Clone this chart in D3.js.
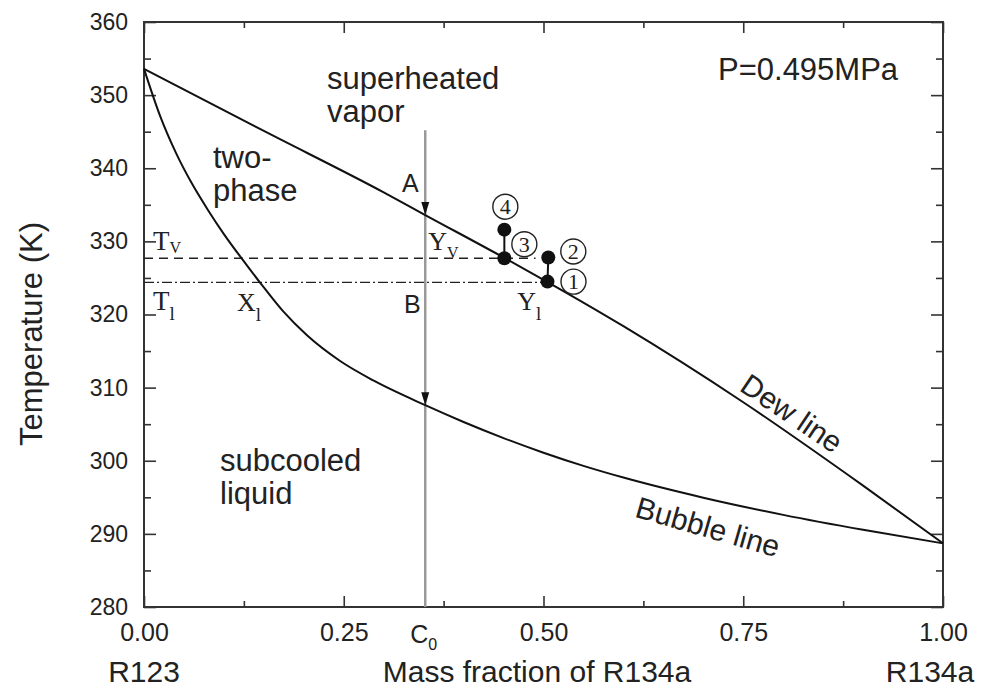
<!DOCTYPE html>
<html>
<head>
<meta charset="utf-8">
<script src="https://cdn.jsdelivr.net/npm/d3@7"></script>
<style>
  body { margin: 0; background: #fff; }
  text { fill: #222; }
</style>
</head>
<body>
<div id="chart"></div>
<script>
// Dew line (saturated vapour)
const dewX = [0, 0.15, 0.3, 0.352, 0.45, 0.504, 0.6, 0.75, 0.9, 1.0];
const dewT = [353.6, 345.1, 336.7, 333.6, 327.8, 324.5, 318.4, 308.0, 296.6, 288.7];

// Bubble line (saturated liquid)
const bubbleX = [0, 0.02, 0.04, 0.06, 0.08, 0.1, 0.122, 0.145, 0.174, 0.204, 0.245, 0.287, 0.352, 0.4, 0.45, 0.5, 0.55, 0.6, 0.7, 0.8, 0.9, 1.0];
const bubbleT = [353.6, 347.2, 342.1, 337.9, 334.3, 331.0, 327.7, 324.4, 320.45, 317.15, 313.67, 310.98, 307.6, 305.3, 303.1, 301.1, 299.3, 297.7, 294.95, 292.6, 290.55, 288.7];

// measured states 1..4
const pointNames = ["1", "2", "3", "4"];
const pointX = [0.505, 0.506, 0.451, 0.451];
const pointT = [324.5, 327.8, 327.7, 331.6];

// construction lines
const c0 = 0.352;       // overall composition
const c0Top = 345.2;    // where the grey line starts
const tV = 327.7;       // vapour temperature
const tVEnd = 0.49;
const tL = 324.4;       // liquid temperature
const tLEnd = 0.505;

// ticks
const xTicks = [0, 0.25, 0.5, 0.75, 1];
const xMinor = [0.125, 0.375, 0.625, 0.875];
const yTicks = [280, 290, 300, 310, 320, 330, 340, 350, 360];
const yMinor = [285, 295, 305, 315, 325, 335, 345, 355];

const width = 990;
const height = 692;
const margin = { top: 22, right: 47, bottom: 85, left: 144 };
const sans = "'Liberation Sans', Arial, sans-serif";
const serif = "'Liberation Serif', 'Times New Roman', serif";

const svg = d3.select("#chart")
  .append("svg")
  .attr("width", width)
  .attr("height", height)
  .attr("viewBox", [0, 0, width, height]);

const x = d3.scaleLinear()
  .domain([0, 1])
  .range([margin.left, width - margin.right]);

const y = d3.scaleLinear()
  .domain([280, 360])
  .range([height - margin.bottom, margin.top]);

// axes, ticks pointing inward on all four sides
function styleAxis(g) {
  g.select(".domain").remove();
  g.selectAll(".tick line").attr("stroke", "#333").attr("stroke-width", 1.6);
}

svg.append("g")
  .attr("transform", `translate(0,${y(280)})`)
  .call(d3.axisBottom(x).tickValues(xTicks).tickSize(-11).tickPadding(16).tickFormat(d3.format(".2f")))
  .call(styleAxis)
  .call(g => g.selectAll("text").attr("font-family", sans).attr("font-size", 25).attr("fill", "#222"));
svg.append("g")
  .attr("transform", `translate(0,${y(280)})`)
  .call(d3.axisBottom(x).tickValues(xMinor).tickSize(-6).tickFormat(""))
  .call(styleAxis);

svg.append("g")
  .attr("transform", `translate(0,${y(360)})`)
  .call(d3.axisTop(x).tickValues(xTicks).tickSize(-11).tickFormat(""))
  .call(styleAxis);
svg.append("g")
  .attr("transform", `translate(0,${y(360)})`)
  .call(d3.axisTop(x).tickValues(xMinor).tickSize(-6).tickFormat(""))
  .call(styleAxis);

svg.append("g")
  .attr("transform", `translate(${x(0)},0)`)
  .call(d3.axisLeft(y).tickValues(yTicks).tickSize(-12).tickPadding(16))
  .call(styleAxis)
  .call(g => g.selectAll("text").attr("font-family", sans).attr("font-size", 23).attr("fill", "#222"));
svg.append("g")
  .attr("transform", `translate(${x(0)},0)`)
  .call(d3.axisLeft(y).tickValues(yMinor).tickSize(-7).tickFormat(""))
  .call(styleAxis);

svg.append("g")
  .attr("transform", `translate(${x(1)},0)`)
  .call(d3.axisRight(y).tickValues(yTicks).tickSize(-12).tickFormat(""))
  .call(styleAxis);
svg.append("g")
  .attr("transform", `translate(${x(1)},0)`)
  .call(d3.axisRight(y).tickValues(yMinor).tickSize(-7).tickFormat(""))
  .call(styleAxis);

// frame
svg.append("rect")
  .attr("x", x(0))
  .attr("y", y(360))
  .attr("width", x(1) - x(0))
  .attr("height", y(280) - y(360))
  .attr("fill", "none")
  .attr("stroke", "#333")
  .attr("stroke-width", 2);

// grey composition line C0
svg.append("line")
  .attr("x1", x(c0)).attr("x2", x(c0))
  .attr("y1", y(c0Top)).attr("y2", y(280))
  .attr("stroke", "#999")
  .attr("stroke-width", 2.5);

// Tv dashed, Tl dash-dot
svg.append("line")
  .attr("x1", x(0)).attr("x2", x(tVEnd))
  .attr("y1", y(tV)).attr("y2", y(tV))
  .attr("stroke", "#222").attr("stroke-width", 1.4)
  .attr("stroke-dasharray", "9,6");
svg.append("line")
  .attr("x1", x(0)).attr("x2", x(tLEnd))
  .attr("y1", y(tL)).attr("y2", y(tL))
  .attr("stroke", "#222").attr("stroke-width", 1.4)
  .attr("stroke-dasharray", "10,3,2,3");

// dew and bubble curves
const line = d3.line()
  .x(d => x(d[0]))
  .y(d => y(d[1]))
  .curve(d3.curveMonotoneX);

svg.append("path")
  .datum(d3.zip(dewX, dewT))
  .attr("d", line)
  .attr("fill", "none")
  .attr("stroke", "#111")
  .attr("stroke-width", 2);

svg.append("path")
  .datum(d3.zip(bubbleX, bubbleT))
  .attr("d", line)
  .attr("fill", "none")
  .attr("stroke", "#111")
  .attr("stroke-width", 2);

// arrow heads where C0 meets the two lines
const arrowTips = [dewT[dewX.indexOf(c0)], bubbleT[bubbleX.indexOf(c0)]];
svg.append("g")
  .selectAll("path")
  .data(arrowTips)
  .join("path")
  .attr("d", t => {
    const px = x(c0), py = y(t);
    return `M${px},${py} L${px - 4},${py - 13} L${px + 4},${py - 13} Z`;
  })
  .attr("fill", "#111");

// connectors 4-3 and 2-1
svg.append("g")
  .selectAll("line")
  .data([[3, 2], [1, 0]])
  .join("line")
  .attr("x1", d => x(pointX[d[0]]))
  .attr("x2", d => x(pointX[d[1]]))
  .attr("y1", d => y(pointT[d[0]]))
  .attr("y2", d => y(pointT[d[1]]))
  .attr("stroke", "#111")
  .attr("stroke-width", 2);

svg.append("g")
  .selectAll("circle")
  .data(pointNames)
  .join("circle")
  .attr("cx", (d, i) => x(pointX[i]))
  .attr("cy", (d, i) => y(pointT[i]))
  .attr("r", 7)
  .attr("fill", "#111");

// circled state numbers
const labelOffset = [[26, 0], [25, -6], [20, -14], [1, -23]];
const marks = svg.append("g")
  .selectAll("g")
  .data(pointNames)
  .join("g")
  .attr("transform", (d, i) => `translate(${x(pointX[i]) + labelOffset[i][0]},${y(pointT[i]) + labelOffset[i][1]})`);
marks.append("circle")
  .attr("r", 12.5)
  .attr("fill", "none")
  .attr("stroke", "#222")
  .attr("stroke-width", 1.4);
marks.append("text")
  .attr("text-anchor", "middle")
  .attr("dy", "0.35em")
  .attr("font-family", serif)
  .attr("font-size", 22)
  .text(d => d);

// helper for letter + subscript
function subLabel(px, py, main, sub, family, size, subSize, subDy) {
  const t = svg.append("text")
    .attr("x", px).attr("y", py)
    .attr("font-family", family)
    .attr("font-size", size);
  t.append("tspan").text(main);
  t.append("tspan")
    .attr("font-size", subSize)
    .attr("dy", subDy)
    .text(sub);
}

subLabel(x(0) + 9, y(tV) - 8, "T", "V", serif, 27, 16, 3);
subLabel(x(0) + 9, y(tL) + 28, "T", "l", serif, 27, 19, 10);
subLabel(x(0) + 93, y(tL) + 29, "X", "l", serif, 26, 19, 10);
subLabel(x(c0) + 3, y(tV) - 8, "Y", "V", serif, 26, 16, 8);
subLabel(x(c0) + 92, y(tL) + 28, "Y", "l", serif, 26, 19, 10);

// A and B
svg.append("text")
  .attr("x", x(c0) - 15).attr("y", y(dewT[dewX.indexOf(c0)]) - 23)
  .attr("text-anchor", "middle")
  .attr("font-family", sans).attr("font-size", 25)
  .text("A");
svg.append("text")
  .attr("x", x(c0) - 13).attr("y", y(tL) + 31)
  .attr("text-anchor", "middle")
  .attr("font-family", sans).attr("font-size", 25)
  .text("B");

// C0 below the axis
subLabel(x(c0) - 15, y(280) + 36, "C", "0", sans, 25, 16, 7);

// region names
function block(px, py, lines, size) {
  const t = svg.append("text")
    .attr("x", px).attr("y", py)
    .attr("font-family", sans)
    .attr("font-size", size);
  lines.forEach((s, i) => t.append("tspan").attr("x", px).attr("dy", i ? 33 : 0).text(s));
}
block(327, 89, ["superheated", "vapor"], 31);
block(213, 168, ["two-", "phase"], 31);
block(220, 471, ["subcooled", "liquid"], 31);

svg.append("text")
  .attr("x", 718).attr("y", 80)
  .attr("font-family", sans).attr("font-size", 31)
  .text("P=0.495MPa");

svg.append("text")
  .attr("transform", "translate(786,422) rotate(34)")
  .attr("text-anchor", "middle")
  .attr("font-family", sans).attr("font-size", 30)
  .text("Dew line");

svg.append("text")
  .attr("transform", "translate(705,537) rotate(16)")
  .attr("text-anchor", "middle")
  .attr("font-family", sans).attr("font-size", 30)
  .text("Bubble line");

// axis titles
svg.append("text")
  .attr("transform", "translate(42,334) rotate(-90)")
  .attr("text-anchor", "middle")
  .attr("font-family", sans).attr("font-size", 31)
  .text("Temperature (K)");

svg.append("text")
  .attr("x", 537).attr("y", 682)
  .attr("text-anchor", "middle")
  .attr("font-family", sans).attr("font-size", 30)
  .text("Mass fraction of R134a");

svg.append("text")
  .attr("x", x(0)).attr("y", 682)
  .attr("text-anchor", "middle")
  .attr("font-family", sans).attr("font-size", 30)
  .text("R123");

svg.append("text")
  .attr("x", 930).attr("y", 682)
  .attr("text-anchor", "middle")
  .attr("font-family", sans).attr("font-size", 30)
  .text("R134a");
</script>
</body>
</html>
